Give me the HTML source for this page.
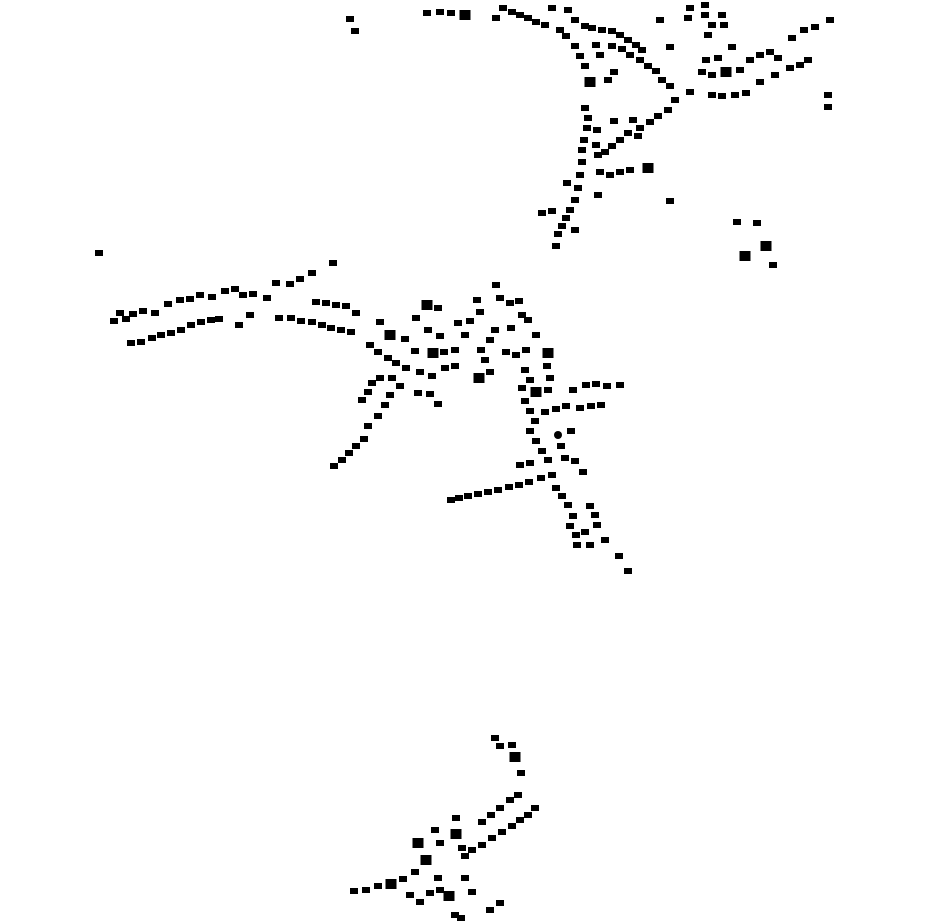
<!DOCTYPE html>
<html><head><meta charset="utf-8"><style>html,body{margin:0;padding:0;background:#fff}svg{display:block}</style></head>
<body>
<svg width="930" height="924" viewBox="0 0 930 924" xmlns="http://www.w3.org/2000/svg">
<defs><rect id="b" x="-4" y="-3" width="8" height="6" fill="#000"/><rect id="B" x="-5.5" y="-5" width="11" height="10" fill="#000"/></defs>
<g>
<use href="#b" x="350" y="19"/><use href="#b" x="355" y="31"/><use href="#b" x="427" y="13"/><use href="#b" x="440" y="12"/><use href="#b" x="451" y="13"/><use href="#B" x="465" y="15"/><use href="#b" x="496" y="18"/><use href="#b" x="503" y="8"/><use href="#b" x="512" y="12"/><use href="#b" x="520" y="15"/><use href="#b" x="528" y="18"/><use href="#b" x="536" y="22"/><use href="#b" x="545" y="25"/><use href="#b" x="552" y="8"/><use href="#b" x="560" y="30"/><use href="#b" x="568" y="10"/><use href="#b" x="566" y="36"/><use href="#b" x="575" y="20"/><use href="#b" x="585" y="26"/><use href="#b" x="592" y="28"/><use href="#b" x="602" y="30"/><use href="#b" x="575" y="46"/><use href="#b" x="580" y="56"/><use href="#b" x="585" y="66"/><use href="#B" x="590" y="82"/><use href="#b" x="612" y="31"/><use href="#b" x="620" y="35"/><use href="#b" x="628" y="40"/><use href="#b" x="636" y="45"/><use href="#b" x="642" y="50"/><use href="#b" x="612" y="46"/><use href="#b" x="622" y="49"/><use href="#b" x="630" y="55"/><use href="#b" x="640" y="60"/><use href="#b" x="648" y="66"/><use href="#b" x="656" y="71"/><use href="#b" x="600" y="55"/><use href="#b" x="596" y="45"/><use href="#b" x="614" y="72"/><use href="#b" x="608" y="80"/><use href="#b" x="662" y="80"/><use href="#b" x="670" y="86"/><use href="#b" x="688" y="18"/><use href="#b" x="690" y="8"/><use href="#b" x="705" y="5"/><use href="#b" x="705" y="15"/><use href="#b" x="712" y="25"/><use href="#b" x="722" y="15"/><use href="#b" x="724" y="25"/><use href="#b" x="708" y="35"/><use href="#b" x="732" y="47"/><use href="#b" x="706" y="60"/><use href="#b" x="718" y="58"/><use href="#b" x="702" y="72"/><use href="#b" x="712" y="75"/><use href="#B" x="726" y="72"/><use href="#b" x="740" y="70"/><use href="#b" x="750" y="60"/><use href="#b" x="760" y="55"/><use href="#b" x="770" y="52"/><use href="#b" x="778" y="58"/><use href="#b" x="690" y="92"/><use href="#b" x="712" y="95"/><use href="#b" x="722" y="96"/><use href="#b" x="735" y="95"/><use href="#b" x="746" y="93"/><use href="#b" x="760" y="82"/><use href="#b" x="775" y="75"/><use href="#b" x="790" y="68"/><use href="#b" x="800" y="65"/><use href="#b" x="808" y="60"/><use href="#b" x="792" y="38"/><use href="#b" x="804" y="30"/><use href="#b" x="815" y="27"/><use href="#b" x="830" y="20"/><use href="#b" x="828" y="95"/><use href="#b" x="828" y="107"/><use href="#b" x="670" y="47"/><use href="#b" x="660" y="20"/>
<use href="#b" x="585" y="108"/><use href="#b" x="588" y="118"/><use href="#b" x="587" y="128"/><use href="#b" x="584" y="140"/><use href="#b" x="582" y="150"/><use href="#b" x="582" y="162"/><use href="#b" x="580" y="175"/><use href="#b" x="578" y="188"/><use href="#b" x="575" y="200"/><use href="#b" x="570" y="210"/><use href="#b" x="566" y="218"/><use href="#b" x="562" y="226"/><use href="#b" x="558" y="234"/><use href="#b" x="556" y="246"/><use href="#b" x="542" y="213"/><use href="#b" x="552" y="211"/><use href="#b" x="575" y="230"/><use href="#b" x="567" y="183"/><use href="#b" x="597" y="130"/><use href="#b" x="596" y="145"/><use href="#b" x="598" y="155"/><use href="#b" x="605" y="152"/><use href="#b" x="612" y="146"/><use href="#b" x="620" y="140"/><use href="#b" x="628" y="133"/><use href="#b" x="640" y="128"/><use href="#b" x="650" y="122"/><use href="#b" x="658" y="116"/><use href="#b" x="668" y="110"/><use href="#b" x="675" y="100"/><use href="#b" x="614" y="121"/><use href="#b" x="633" y="120"/><use href="#b" x="638" y="136"/><use href="#b" x="600" y="172"/><use href="#b" x="610" y="175"/><use href="#b" x="620" y="172"/><use href="#b" x="630" y="170"/><use href="#B" x="648" y="168"/><use href="#b" x="598" y="195"/><use href="#b" x="670" y="201"/>
<use href="#b" x="737" y="222"/><use href="#b" x="757" y="223"/><use href="#B" x="745" y="256"/><use href="#B" x="766" y="246"/><use href="#b" x="773" y="265"/>
<use href="#b" x="99" y="253"/><use href="#b" x="333" y="263"/><use href="#b" x="312" y="273"/><use href="#b" x="300" y="279"/><use href="#b" x="290" y="284"/><use href="#b" x="276" y="283"/><use href="#b" x="267" y="298"/><use href="#b" x="253" y="294"/><use href="#b" x="243" y="295"/><use href="#b" x="235" y="289"/><use href="#b" x="225" y="291"/><use href="#b" x="212" y="297"/><use href="#b" x="200" y="295"/><use href="#b" x="190" y="299"/><use href="#b" x="180" y="300"/><use href="#b" x="168" y="304"/><use href="#b" x="155" y="313"/><use href="#b" x="143" y="311"/><use href="#b" x="133" y="314"/><use href="#b" x="120" y="313"/><use href="#b" x="114" y="321"/><use href="#b" x="126" y="319"/><use href="#b" x="131" y="343"/><use href="#b" x="141" y="342"/><use href="#b" x="152" y="338"/><use href="#b" x="161" y="335"/><use href="#b" x="171" y="333"/><use href="#b" x="181" y="330"/><use href="#b" x="191" y="325"/><use href="#b" x="201" y="322"/><use href="#b" x="211" y="320"/><use href="#b" x="219" y="319"/><use href="#b" x="239" y="325"/><use href="#b" x="250" y="315"/><use href="#b" x="279" y="318"/><use href="#b" x="291" y="318"/><use href="#b" x="301" y="321"/><use href="#b" x="312" y="322"/><use href="#b" x="322" y="325"/><use href="#b" x="331" y="328"/><use href="#b" x="341" y="330"/><use href="#b" x="351" y="332"/><use href="#b" x="316" y="302"/><use href="#b" x="326" y="303"/><use href="#b" x="336" y="305"/><use href="#b" x="346" y="306"/><use href="#b" x="356" y="313"/>
<use href="#B" x="390" y="335"/><use href="#b" x="380" y="322"/><use href="#b" x="405" y="339"/><use href="#b" x="416" y="318"/><use href="#B" x="427" y="305"/><use href="#b" x="438" y="308"/><use href="#b" x="428" y="330"/><use href="#b" x="440" y="336"/><use href="#b" x="415" y="351"/><use href="#B" x="433" y="353"/><use href="#b" x="444" y="352"/><use href="#b" x="455" y="350"/><use href="#b" x="465" y="335"/><use href="#b" x="458" y="323"/><use href="#b" x="470" y="321"/><use href="#b" x="477" y="300"/><use href="#b" x="480" y="312"/><use href="#b" x="496" y="285"/><use href="#b" x="500" y="298"/><use href="#b" x="510" y="303"/><use href="#b" x="519" y="301"/><use href="#b" x="522" y="315"/><use href="#b" x="511" y="328"/><use href="#b" x="495" y="330"/><use href="#b" x="490" y="340"/><use href="#b" x="481" y="350"/><use href="#b" x="485" y="360"/><use href="#b" x="506" y="352"/><use href="#b" x="516" y="355"/><use href="#b" x="526" y="350"/><use href="#B" x="548" y="353"/><use href="#b" x="547" y="366"/><use href="#b" x="536" y="335"/><use href="#b" x="528" y="320"/><use href="#b" x="370" y="345"/><use href="#b" x="378" y="352"/><use href="#b" x="388" y="358"/><use href="#b" x="396" y="363"/><use href="#b" x="406" y="368"/><use href="#b" x="380" y="378"/><use href="#b" x="372" y="383"/><use href="#b" x="368" y="392"/><use href="#b" x="362" y="400"/><use href="#b" x="392" y="378"/><use href="#b" x="400" y="386"/><use href="#b" x="390" y="395"/><use href="#b" x="385" y="405"/><use href="#b" x="378" y="416"/><use href="#b" x="368" y="426"/><use href="#b" x="364" y="439"/><use href="#b" x="356" y="446"/><use href="#b" x="349" y="453"/><use href="#b" x="342" y="460"/><use href="#b" x="334" y="466"/><use href="#b" x="420" y="372"/><use href="#b" x="432" y="376"/><use href="#b" x="418" y="393"/><use href="#b" x="430" y="394"/><use href="#b" x="438" y="404"/><use href="#b" x="445" y="368"/><use href="#b" x="455" y="366"/><use href="#B" x="479" y="378"/><use href="#b" x="490" y="372"/><use href="#b" x="525" y="370"/><use href="#b" x="530" y="380"/><use href="#b" x="522" y="388"/><use href="#B" x="536" y="392"/><use href="#b" x="550" y="378"/><use href="#b" x="548" y="390"/><use href="#b" x="525" y="401"/><use href="#b" x="530" y="411"/><use href="#b" x="535" y="421"/><use href="#b" x="545" y="412"/><use href="#b" x="556" y="409"/><use href="#b" x="566" y="406"/><use href="#b" x="580" y="408"/><use href="#b" x="591" y="406"/><use href="#b" x="601" y="405"/><use href="#b" x="573" y="390"/><use href="#b" x="586" y="385"/><use href="#b" x="596" y="384"/><use href="#b" x="607" y="386"/><use href="#b" x="620" y="385"/><use href="#b" x="530" y="431"/><use href="#b" x="536" y="441"/><use href="#b" x="542" y="451"/><use href="#b" x="548" y="460"/><circle cx="558" cy="435" r="4"/><use href="#b" x="571" y="431"/><use href="#b" x="561" y="446"/><use href="#b" x="565" y="458"/><use href="#b" x="575" y="461"/><use href="#b" x="520" y="465"/><use href="#b" x="530" y="463"/><use href="#b" x="552" y="475"/><use href="#b" x="583" y="472"/><use href="#b" x="541" y="478"/><use href="#b" x="529" y="482"/><use href="#b" x="519" y="485"/><use href="#b" x="509" y="487"/><use href="#b" x="498" y="490"/><use href="#b" x="488" y="492"/><use href="#b" x="478" y="494"/><use href="#b" x="468" y="496"/><use href="#b" x="459" y="498"/><use href="#b" x="451" y="500"/><use href="#b" x="556" y="488"/><use href="#b" x="562" y="496"/><use href="#b" x="568" y="505"/><use href="#b" x="573" y="516"/><use href="#b" x="570" y="526"/><use href="#b" x="576" y="535"/><use href="#b" x="585" y="532"/><use href="#b" x="590" y="506"/><use href="#b" x="595" y="515"/><use href="#b" x="597" y="525"/><use href="#b" x="605" y="540"/><use href="#b" x="590" y="545"/><use href="#b" x="577" y="545"/><use href="#b" x="619" y="556"/><use href="#b" x="628" y="571"/>
<use href="#b" x="495" y="738"/><use href="#b" x="512" y="745"/><use href="#b" x="500" y="746"/><use href="#B" x="515" y="757"/><use href="#b" x="521" y="773"/><use href="#b" x="518" y="795"/><use href="#b" x="510" y="800"/><use href="#b" x="500" y="808"/><use href="#b" x="491" y="815"/><use href="#b" x="482" y="822"/><use href="#b" x="535" y="808"/><use href="#b" x="528" y="815"/><use href="#b" x="520" y="820"/><use href="#b" x="512" y="826"/><use href="#b" x="502" y="832"/><use href="#b" x="492" y="838"/><use href="#b" x="482" y="845"/><use href="#b" x="472" y="850"/><use href="#b" x="465" y="856"/><use href="#b" x="456" y="818"/><use href="#b" x="435" y="830"/><use href="#B" x="418" y="843"/><use href="#b" x="440" y="843"/><use href="#B" x="456" y="834"/><use href="#b" x="462" y="848"/><use href="#B" x="426" y="860"/><use href="#b" x="415" y="872"/><use href="#b" x="403" y="879"/><use href="#B" x="391" y="884"/><use href="#b" x="378" y="886"/><use href="#b" x="366" y="890"/><use href="#b" x="354" y="891"/><use href="#b" x="410" y="895"/><use href="#b" x="420" y="902"/><use href="#b" x="430" y="893"/><use href="#b" x="440" y="890"/><use href="#B" x="449" y="896"/><use href="#b" x="465" y="878"/><use href="#b" x="472" y="892"/><use href="#b" x="455" y="915"/><use href="#b" x="461" y="918"/><use href="#b" x="490" y="910"/><use href="#b" x="500" y="903"/><use href="#b" x="438" y="878"/>
</g>
</svg>
</body></html>
